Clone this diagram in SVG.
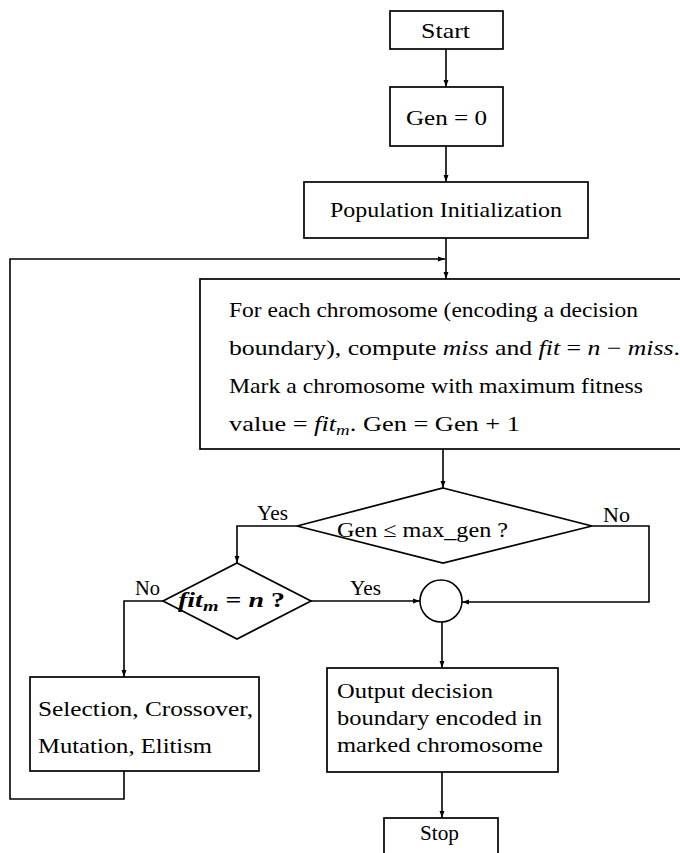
<svg xmlns="http://www.w3.org/2000/svg" width="680" height="853" viewBox="0 0 680 853">
<defs>
<style>
.box{fill:#fff;stroke:#000;stroke-width:1.7}
.ln{fill:none;stroke:#000;stroke-width:1.6}
.t{font-family:"Liberation Serif","DejaVu Serif",serif;font-size:21px;fill:#000}
.c{text-anchor:middle}
.i{font-style:italic}
</style>
<marker id="ah" viewBox="0 0 10 10" refX="10" refY="5" markerWidth="7" markerHeight="7" orient="auto" markerUnits="userSpaceOnUse">
<path d="M0,1.5 L10,5 L0,8.5 z" fill="#000"/>
</marker>
</defs>
<rect width="680" height="853" fill="#fff"/>
<g id="connectors">
<path class="ln" d="M446,49 V87" marker-end="url(#ah)"/>
<path class="ln" d="M446,146 V182" marker-end="url(#ah)"/>
<path class="ln" d="M446,238 V279" marker-end="url(#ah)"/>
<path class="ln" d="M443,449 V488" marker-end="url(#ah)"/>
<path class="ln" d="M297,526 H237 V563" marker-end="url(#ah)"/>
<path class="ln" d="M592,526 H649 V602 H462" marker-end="url(#ah)"/>
<path class="ln" d="M311,601 H420" marker-end="url(#ah)"/>
<path class="ln" d="M163,601 H124 V677" marker-end="url(#ah)"/>
<path class="ln" d="M124,771 V799 H10 V259 H445" marker-end="url(#ah)"/>
<path class="ln" d="M442,622 V668" marker-end="url(#ah)"/>
<path class="ln" d="M442,772 V818" marker-end="url(#ah)"/>
<text class="t" x="257" y="520" textLength="31" lengthAdjust="spacingAndGlyphs">Yes</text>
<text class="t" x="603" y="522" textLength="27" lengthAdjust="spacingAndGlyphs">No</text>
<text class="t" x="135" y="595" textLength="25" lengthAdjust="spacingAndGlyphs">No</text>
<text class="t" x="350" y="595" textLength="31" lengthAdjust="spacingAndGlyphs">Yes</text>
</g>
<g id="start">
<rect class="box" x="390" y="11" width="113" height="38"/>
<text class="t" x="421" y="38" textLength="49" lengthAdjust="spacingAndGlyphs">Start</text>
</g>
<g id="gen0">
<rect class="box" x="390" y="87" width="113" height="59"/>
<text class="t" x="406" y="125" textLength="81" lengthAdjust="spacingAndGlyphs">Gen = 0</text>
</g>
<g id="init">
<rect class="box" x="304" y="182" width="284" height="56"/>
<text class="t" x="330" y="217" textLength="232" lengthAdjust="spacingAndGlyphs">Population Initialization</text>
</g>
<g id="evaluate">
<rect class="box" x="200" y="279" width="490" height="170"/>
<text class="t" x="229" y="317" textLength="409" lengthAdjust="spacingAndGlyphs">For each chromosome (encoding a decision</text>
<text class="t" x="229" y="355" textLength="451" lengthAdjust="spacingAndGlyphs">boundary), compute <tspan class="i">miss</tspan> and <tspan class="i">fit</tspan> = <tspan class="i">n</tspan> − <tspan class="i">miss</tspan>.</text>
<text class="t" x="229" y="393" textLength="414" lengthAdjust="spacingAndGlyphs">Mark a chromosome with maximum fitness</text>
<text class="t" x="229" y="431" textLength="291" lengthAdjust="spacingAndGlyphs">value = <tspan class="i">fit</tspan><tspan class="i" font-size="15" dy="4">m</tspan><tspan dy="-4">. Gen = Gen + 1</tspan></text>
</g>
<g id="decision-gen">
<polygon class="box" points="443,488 592,526 443,563 297,526"/>
<text class="t" x="337" y="537" textLength="171" lengthAdjust="spacingAndGlyphs">Gen ≤ max_gen ?</text>
</g>
<g id="decision-fit">
<polygon class="box" points="237,563 311,601 237,639 163,601"/>
<text class="t" x="178" y="607" font-weight="bold" textLength="107" lengthAdjust="spacingAndGlyphs"><tspan class="i">fit</tspan><tspan class="i" font-size="15" dy="4">m</tspan><tspan dy="-4"> = </tspan><tspan class="i">n</tspan> ?</text>
</g>
<g id="join">
<circle cx="441" cy="601" r="21" fill="#fff" stroke="#000" stroke-width="1.6"/>
</g>
<g id="ga-ops">
<rect class="box" x="30" y="677" width="229" height="94"/>
<text class="t" x="38" y="716" textLength="215" lengthAdjust="spacingAndGlyphs">Selection, Crossover,</text>
<text class="t" x="38" y="753" textLength="174" lengthAdjust="spacingAndGlyphs">Mutation, Elitism</text>
</g>
<g id="output">
<rect class="box" x="327" y="668" width="231" height="104"/>
<text class="t" x="337" y="698" textLength="156" lengthAdjust="spacingAndGlyphs">Output decision</text>
<text class="t" x="337" y="725" textLength="205" lengthAdjust="spacingAndGlyphs">boundary encoded in</text>
<text class="t" x="337" y="752" textLength="206" lengthAdjust="spacingAndGlyphs">marked chromosome</text>
</g>
<g id="stop">
<rect class="box" x="384" y="818" width="114" height="45"/>
<text class="t" x="420" y="840" textLength="39" lengthAdjust="spacingAndGlyphs">Stop</text>
</g>
</svg>
